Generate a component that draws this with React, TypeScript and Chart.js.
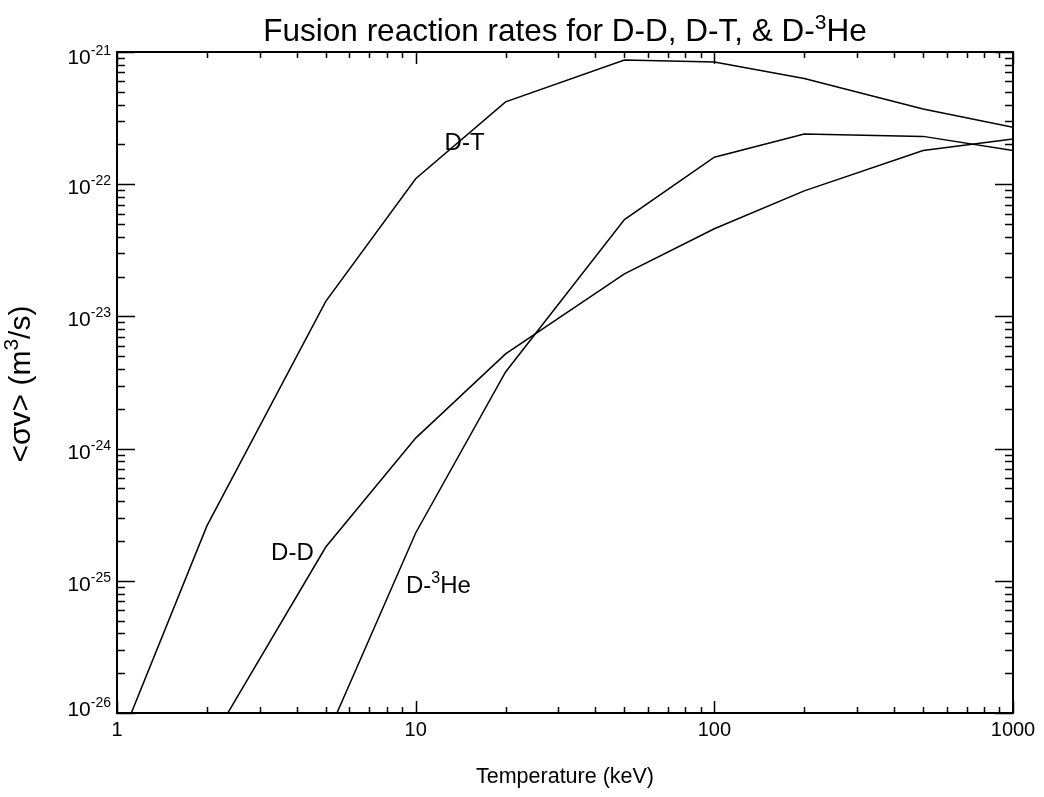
import React, { useEffect, useRef } from "react";
import { Chart, registerables } from "chart.js";

Chart.register(...registerables);

// Temperatures (keV) and reaction rates <σv> (m^3/s)
const dtTemp = [1, 2, 5, 10, 20, 50, 100, 200, 500, 1000];
const dtRate = [5.4e-27, 2.6e-25, 1.3e-23, 1.1e-22, 4.2e-22, 8.7e-22, 8.4e-22, 6.3e-22, 3.7e-22, 2.7e-22];

const ddTemp = [2, 5, 10, 20, 50, 100, 200, 500, 1000];
const ddRate = [5.4e-27, 1.8e-25, 1.2e-24, 5.2e-24, 2.1e-23, 4.6e-23, 8.9e-23, 1.8e-22, 2.2e-22];

const dheTemp = [5, 10, 20, 50, 100, 200, 500, 1000];
const dheRate = [6.4e-27, 2.3e-25, 3.8e-24, 5.4e-23, 1.6e-22, 2.4e-22, 2.3e-22, 1.8e-22];

const xMajorTicks = [1, 10, 100, 1000];
const xTickLabels = ["1", "10", "100", "1000"];
const yMajorTicks = [1e-26, 1e-25, 1e-24, 1e-23, 1e-22, 1e-21];
const yTickExponents = ["-26", "-25", "-24", "-23", "-22", "-21"];
const minorMultipliers = [2, 3, 4, 5, 6, 7, 8, 9];

const seriesLabels = [
  { base: "D-T", sup: "", tail: "", x: 12.5, y: 1.8e-22 },
  { base: "D-D", sup: "", tail: "", x: 3.28, y: 1.43e-25 },
  { base: "D-", sup: "3", tail: "He", x: 9.28, y: 8.1e-26 },
];

const FONT = "'Liberation Sans', Arial, Helvetica, sans-serif";

function font(size: number) {
  return `${size}px ${FONT}`;
}

function drawRich(
  ctx: CanvasRenderingContext2D,
  parts: { text: string; sup?: boolean }[],
  x: number,
  y: number,
  size: number,
  supSize: number,
  supRaise: number,
  align: "left" | "center" | "right"
) {
  let total = 0;
  const widths = parts.map((p) => {
    ctx.font = font(p.sup ? supSize : size);
    const w = ctx.measureText(p.text).width;
    total += w;
    return w;
  });
  let cx = x;
  if (align === "center") cx = x - total / 2;
  if (align === "right") cx = x - total;
  ctx.textAlign = "left";
  ctx.textBaseline = "alphabetic";
  parts.forEach((p, i) => {
    ctx.font = font(p.sup ? supSize : size);
    ctx.fillText(p.text, cx, p.sup ? y - supRaise : y);
    cx += widths[i];
  });
}

const axesPlugin = {
  id: "idlAxes",
  afterDatasetsDraw(chart: any) {
    const ctx: CanvasRenderingContext2D = chart.ctx;
    const { left, right, top, bottom } = chart.chartArea;
    const xs = chart.scales.x;
    const ys = chart.scales.y;
    ctx.save();
    ctx.strokeStyle = "#000";
    ctx.fillStyle = "#000";

    // box
    ctx.lineWidth = 2;
    ctx.strokeRect(left, top, right - left, bottom - top);

    ctx.lineWidth = 1.5;
    const xMinor: number[] = [];
    xMajorTicks.slice(0, -1).forEach((d) => minorMultipliers.forEach((m) => xMinor.push(d * m)));
    const yMinor: number[] = [];
    yMajorTicks.slice(0, -1).forEach((d) => minorMultipliers.forEach((m) => yMinor.push(d * m)));

    ctx.beginPath();
    xMajorTicks.forEach((v) => {
      const px = Math.round(xs.getPixelForValue(v)) + 0.5;
      ctx.moveTo(px, bottom);
      ctx.lineTo(px, bottom - 12);
      ctx.moveTo(px, top);
      ctx.lineTo(px, top + 12);
    });
    xMinor.forEach((v) => {
      const px = Math.round(xs.getPixelForValue(v)) + 0.5;
      ctx.moveTo(px, bottom);
      ctx.lineTo(px, bottom - 6);
      ctx.moveTo(px, top);
      ctx.lineTo(px, top + 6);
    });
    yMajorTicks.forEach((v) => {
      const py = Math.round(ys.getPixelForValue(v)) + 0.5;
      ctx.moveTo(left, py);
      ctx.lineTo(left + 18, py);
      ctx.moveTo(right, py);
      ctx.lineTo(right - 18, py);
    });
    yMinor.forEach((v) => {
      const py = Math.round(ys.getPixelForValue(v)) + 0.5;
      ctx.moveTo(left, py);
      ctx.lineTo(left + 8, py);
      ctx.moveTo(right, py);
      ctx.lineTo(right - 8, py);
    });
    ctx.stroke();

    // x tick labels
    ctx.font = font(20);
    ctx.textAlign = "center";
    ctx.textBaseline = "alphabetic";
    xMajorTicks.forEach((v, i) => {
      const px = xs.getPixelForValue(v);
      ctx.fillText(xTickLabels[i], px, bottom + 23);
    });

    // y tick labels
    const last = yMajorTicks.length - 1;
    yMajorTicks.forEach((v, i) => {
      const py = ys.getPixelForValue(v);
      const off = i === 0 ? 3 : i === last ? 12 : 10;
      drawRich(
        ctx,
        [{ text: "10" }, { text: yTickExponents[i], sup: true }],
        left - 6,
        py + off,
        21,
        14,
        9,
        "right"
      );
    });

    // title
    drawRich(
      ctx,
      [{ text: "Fusion reaction rates for D-D, D-T, & D-" }, { text: "3", sup: true }, { text: "He" }],
      (left + right) / 2,
      41,
      31.5,
      21,
      12,
      "center"
    );

    // x axis title
    ctx.font = font(21.5);
    ctx.textAlign = "center";
    ctx.fillText("Temperature (keV)", (left + right) / 2, 783);

    // y axis title (rotated)
    ctx.save();
    ctx.translate(30, 384);
    ctx.rotate(-Math.PI / 2);
    drawRich(
      ctx,
      [{ text: "<σv> (m" }, { text: "3", sup: true }, { text: "/s)" }],
      0,
      0,
      30,
      21,
      12,
      "center"
    );
    ctx.restore();

    // series labels
    seriesLabels.forEach((l) => {
      const px = xs.getPixelForValue(l.x);
      const py = ys.getPixelForValue(l.y);
      const parts: { text: string; sup?: boolean }[] = [{ text: l.base }];
      if (l.sup) parts.push({ text: l.sup, sup: true });
      if (l.tail) parts.push({ text: l.tail });
      drawRich(ctx, parts, px, py, 24, 16, 10, "left");
    });

    ctx.restore();
  },
};

function toPoints(xs: number[], ys: number[]) {
  return xs.map((x, i) => ({ x, y: ys[i] }));
}

export default function App() {
  const ref = useRef<HTMLCanvasElement | null>(null);

  useEffect(() => {
    document.body.style.margin = "0";
    const canvas = ref.current!;
    const lineStyle = {
      borderColor: "#000",
      borderWidth: 1.5,
      pointRadius: 0,
      fill: false,
      tension: 0,
    };
    const chart = new Chart(canvas, {
      type: "line",
      data: {
        datasets: [
          { label: "D-T", data: toPoints(dtTemp, dtRate), ...lineStyle },
          { label: "D-D", data: toPoints(ddTemp, ddRate), ...lineStyle },
          { label: "D-3He", data: toPoints(dheTemp, dheRate), ...lineStyle },
        ],
      },
      options: {
        responsive: false,
        animation: false,
        devicePixelRatio: 1,
        layout: { padding: { left: 117, right: 31, top: 52, bottom: 84 } },
        plugins: {
          legend: { display: false },
          tooltip: { enabled: false },
          title: { display: false },
        },
        scales: {
          x: { type: "logarithmic", min: 1, max: 1000, display: false },
          y: { type: "logarithmic", min: 1e-26, max: 1e-21, display: false },
        },
      },
      plugins: [axesPlugin],
    });
    return () => chart.destroy();
  }, []);

  return (
    <div style={{ position: "fixed", left: 0, top: 0, width: 1044, height: 797, background: "#fff" }}>
      <canvas ref={ref} width={1044} height={797} style={{ width: 1044, height: 797, display: "block" }} />
    </div>
  );
}
